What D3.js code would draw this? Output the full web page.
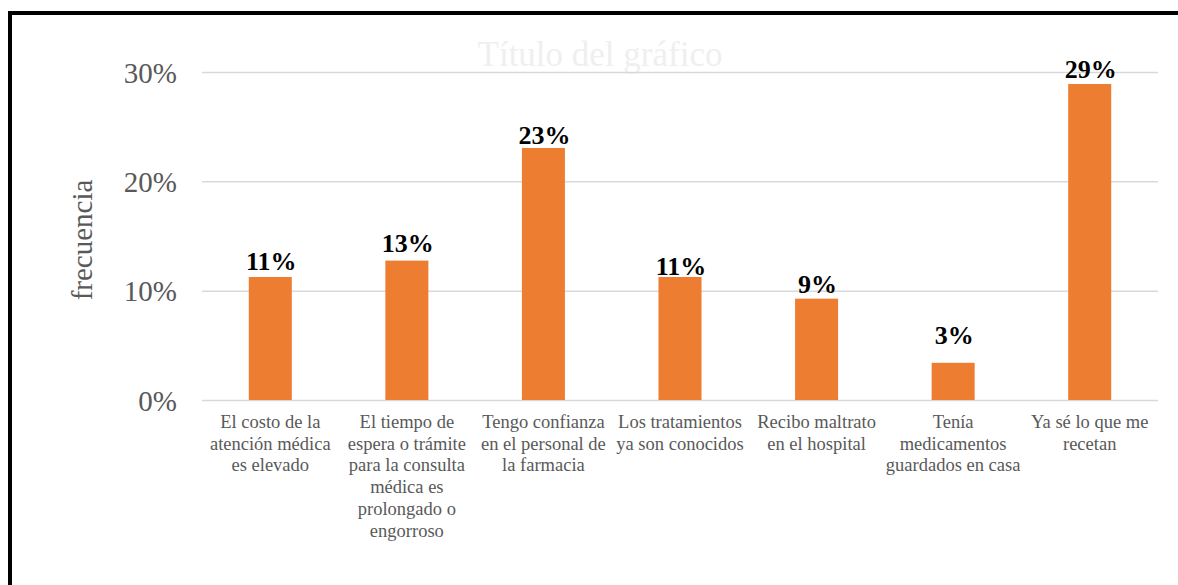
<!DOCTYPE html>
<html>
<head>
<meta charset="utf-8">
<script src="https://cdn.jsdelivr.net/npm/d3@7"></script>
<style>
  html, body { margin: 0; padding: 0; background: #ffffff; }
  svg { display: block; }
</style>
</head>
<body>
<svg id="chart" width="1178" height="585"></svg>
<script>
// Motivos de automedicación (proporción de respuestas)
const categories = [
  "El costo de la\natención médica\nes elevado",
  "El tiempo de\nespera o trámite\npara la consulta\nmédica es\nprolongado o\nengorroso",
  "Tengo confianza\nen el personal de\nla farmacia",
  "Los tratamientos\nya son conocidos",
  "Recibo maltrato\nen el hospital",
  "Tenía\nmedicamentos\nguardados en casa",
  "Ya sé lo que me\nrecetan"
];
const frecuencia = [0.1125, 0.1275, 0.2305, 0.1125, 0.0927, 0.034, 0.289];
const yTicks = [0, 0.1, 0.2, 0.3];
const chartTitle = "Título del gráfico";
const yTitle = "frecuencia";

// gap (px) between each value label and its bar top
const labelGap = [7, 9, 4, 2, 6, 19, 6];

const svg = d3.select("#chart");
const serif = "'Liberation Serif', 'Times New Roman', serif";

// frame
svg.append("rect")
  .attr("x", 10).attr("y", 13)
  .attr("width", 1220).attr("height", 620)
  .attr("fill", "#ffffff")
  .attr("stroke", "#000000")
  .attr("stroke-width", 4);

const plot = { left: 202, right: 1158, top: 72, bottom: 400 };

const x = d3.scaleBand()
  .domain(categories)
  .range([plot.left, plot.right])
  .paddingInner(0.685)
  .paddingOuter(0.3425);

const y = d3.scaleLinear()
  .domain([0, 0.3])
  .range([plot.bottom, plot.top]);

// title (very faint)
svg.append("text")
  .attr("x", 600).attr("y", 66)
  .attr("text-anchor", "middle")
  .attr("font-family", serif)
  .attr("font-size", 35)
  .attr("fill", "#efefef")
  .text(chartTitle);

// gridlines + y tick labels
const yAxis = d3.axisLeft(y)
  .tickValues(yTicks)
  .tickFormat(d3.format(".0%"))
  .tickSize(-(plot.right - plot.left))
  .tickPadding(25);

const gy = svg.append("g")
  .attr("transform", `translate(${plot.left},0)`)
  .call(yAxis);
gy.select(".domain").remove();
gy.selectAll(".tick line")
  .attr("stroke", "#d9d9d9")
  .attr("stroke-width", 1.5);
gy.selectAll(".tick text")
  .attr("font-family", serif)
  .attr("font-size", 29)
  .attr("fill", "#595959")
  .attr("dy", "0.35em");

// y axis title
svg.append("text")
  .attr("transform", "translate(92,240) rotate(-90)")
  .attr("text-anchor", "middle")
  .attr("font-family", serif)
  .attr("font-size", 29)
  .attr("fill", "#595959")
  .text(yTitle);

// bars
svg.append("g").selectAll("rect")
  .data(frecuencia)
  .join("rect")
  .attr("x", (d, i) => x(categories[i]))
  .attr("y", d => y(d))
  .attr("width", x.bandwidth())
  .attr("height", d => y(0) - y(d))
  .attr("fill", "#ED7D31");

// value labels
const fmt = d3.format(".0%");
svg.append("g").selectAll("text")
  .data(frecuencia)
  .join("text")
  .attr("x", (d, i) => x(categories[i]) + x.bandwidth() / 2 + 1)
  .attr("y", (d, i) => y(d) - labelGap[i])
  .attr("text-anchor", "middle")
  .attr("font-family", serif)
  .attr("font-weight", "bold")
  .attr("font-size", 26)
  .attr("fill", "#000000")
  .text(d => fmt(d));

// category labels (multi-line)
const cat = svg.append("g").selectAll("text")
  .data(categories)
  .join("text")
  .attr("x", d => x(d) + x.bandwidth() / 2)
  .attr("y", 428)
  .attr("text-anchor", "middle")
  .attr("font-family", serif)
  .attr("font-size", 18.5)
  .attr("fill", "#595959");
cat.each(function(d) {
  const t = d3.select(this);
  d.split("\n").forEach((line, k) => {
    t.append("tspan")
      .attr("x", x(d) + x.bandwidth() / 2)
      .attr("dy", k === 0 ? 0 : 21.7)
      .text(line);
  });
});
</script>
</body>
</html>
